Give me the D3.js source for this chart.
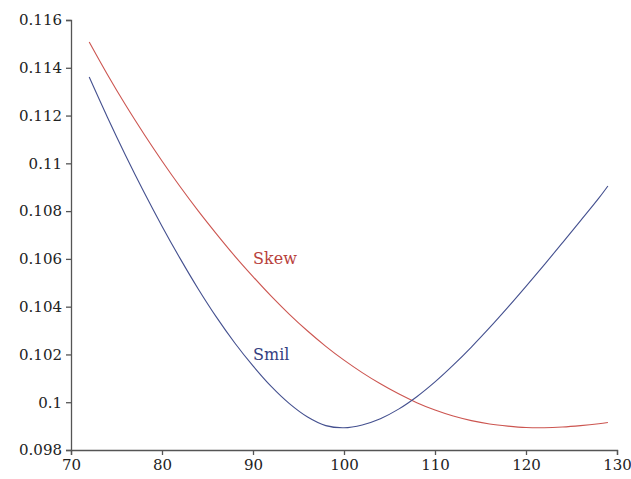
<!DOCTYPE html>
<html>
<head>
<meta charset="utf-8">
<script src="https://cdn.jsdelivr.net/npm/d3@7"></script>
<style>
  body { margin: 0; background: #fff; }
  svg text { font-family: "DejaVu Serif", "Liberation Serif", serif; }
</style>
</head>
<body>
<div id="chart"></div>
<script>
// strike values (x axis)
var strikes = [72, 74, 76, 78, 80, 82, 84, 86, 88, 90, 92, 94, 96, 98, 100,
               102, 104, 106, 108, 110, 112, 114, 116, 118, 120, 122, 124, 126, 128, 129];
// implied vol, smile model
var smil = [0.11361, 0.11193, 0.11033, 0.10881, 0.10737, 0.10601, 0.10473, 0.10355, 0.10248, 0.10152,
            0.10066, 0.09994, 0.09938, 0.09902, 0.09893, 0.09905, 0.09931, 0.09971, 0.10023, 0.10085,
            0.10155, 0.10231, 0.10312, 0.10397, 0.10485, 0.10575, 0.10667, 0.10760, 0.10854, 0.10905];
// implied vol, skew model
var skew = [0.11508, 0.11372, 0.11244, 0.11124, 0.11010, 0.10902, 0.10800, 0.10704, 0.10612, 0.10526,
            0.10444, 0.10368, 0.10298, 0.10234, 0.10176, 0.10124, 0.10077, 0.10035, 0.09998, 0.09967,
            0.09942, 0.09923, 0.09909, 0.09900, 0.09894, 0.09893, 0.09896, 0.09902, 0.09910, 0.09915];

var xTicks = [70, 80, 90, 100, 110, 120, 130];
var yTicks = [0.098, 0.1, 0.102, 0.104, 0.106, 0.108, 0.11, 0.112, 0.114, 0.116];

var margin = { top: 20, right: 14, bottom: 29, left: 71 },
    width = 631 - margin.left - margin.right,
    height = 479 - margin.top - margin.bottom;

var svg = d3.select("#chart").append("svg")
    .attr("width", 631)
    .attr("height", 479)
  .append("g")
    .attr("transform", "translate(" + margin.left + "," + margin.top + ")");

var x = d3.scaleLinear().domain([70, 130]).range([0, width]);
var y = d3.scaleLinear().domain([0.098, 0.116]).range([height, 0]);

// axes
var xAxis = svg.append("g")
    .attr("transform", "translate(0," + height + ")")
    .call(d3.axisBottom(x).tickValues(xTicks).tickSize(5).tickPadding(4).tickFormat(d3.format("d")));
var yAxis = svg.append("g")
    .call(d3.axisLeft(y).tickValues(yTicks).tickSize(5).tickPadding(4).tickFormat(function (d) { return +d.toFixed(3) + ""; }));

[xAxis, yAxis].forEach(function (a) {
    a.select(".domain").attr("stroke", "#555").attr("stroke-width", 1.3);
    a.selectAll(".tick line").attr("stroke", "#555").attr("stroke-width", 1.3);
    a.selectAll(".tick text")
        .attr("fill", "#222")
        .style("font-size", "15px")
        .style("font-family", "DejaVu Serif, serif");
});

var line = d3.line()
    .curve(d3.curveCatmullRom.alpha(0.5))
    .x(function (d) { return x(d[0]); })
    .y(function (d) { return y(d[1]); });

// skew curve
svg.append("path")
    .datum(d3.zip(strikes, skew))
    .attr("fill", "none")
    .attr("stroke", "#cc5550")
    .attr("stroke-width", 1.1)
    .attr("d", line);

// smile curve
svg.append("path")
    .datum(d3.zip(strikes, smil))
    .attr("fill", "none")
    .attr("stroke", "#44508f")
    .attr("stroke-width", 1.1)
    .attr("d", line);

// labels
svg.append("text")
    .attr("x", x(90))
    .attr("y", y(0.106))
    .attr("dominant-baseline", "central")
    .attr("fill", "#b8413c")
    .style("font-size", "16px")
    .text("Skew");

svg.append("text")
    .attr("x", x(90))
    .attr("y", y(0.102))
    .attr("dominant-baseline", "central")
    .attr("fill", "#34407f")
    .style("font-size", "16px")
    .text("Smil");
</script>
</body>
</html>
